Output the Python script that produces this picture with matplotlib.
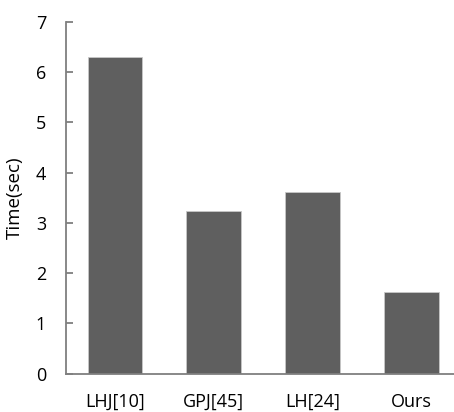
import matplotlib
matplotlib.use('Agg')
import matplotlib.pyplot as plt

# data
methods = ["LHJ[10]", "GPJ[45]", "LH[24]", "Ours"]
times = [6.31, 3.24, 3.61, 1.62]
yticks = [0, 1, 2, 3, 4, 5, 6, 7]

plt.rcParams['font.family'] = ['Open Sans', 'DejaVu Sans']

fig = plt.figure(figsize=(4.54, 4.12), dpi=100)
ax = fig.add_axes([0.1443, 0.093, 0.8557, 0.8536])

x = range(len(methods))
ax.bar(x, times, width=0.555, color='#5f5f5f', edgecolor='#c8c8c8', linewidth=0.6)

ax.set_xlim(-0.5, 3.43)
ax.set_ylim(0, 7)
ax.set_yticks(yticks)
ax.set_xticks(list(x))
ax.set_xticklabels(methods)

for side in ('top', 'right'):
    ax.spines[side].set_visible(False)
for side in ('left', 'bottom'):
    ax.spines[side].set_color('#7f7f7f')
    ax.spines[side].set_linewidth(1.3)

ax.tick_params(axis='y', direction='in', length=5, width=1.3, color='#7f7f7f',
               pad=14, labelsize=13)
ax.tick_params(axis='x', length=0, pad=14, labelsize=13)

ax.set_ylabel("Time(sec)", fontsize=13.5)
ax.yaxis.set_label_coords(-0.107, 0.5)

fig.savefig("out.png", dpi=100)
plt.close(fig)
